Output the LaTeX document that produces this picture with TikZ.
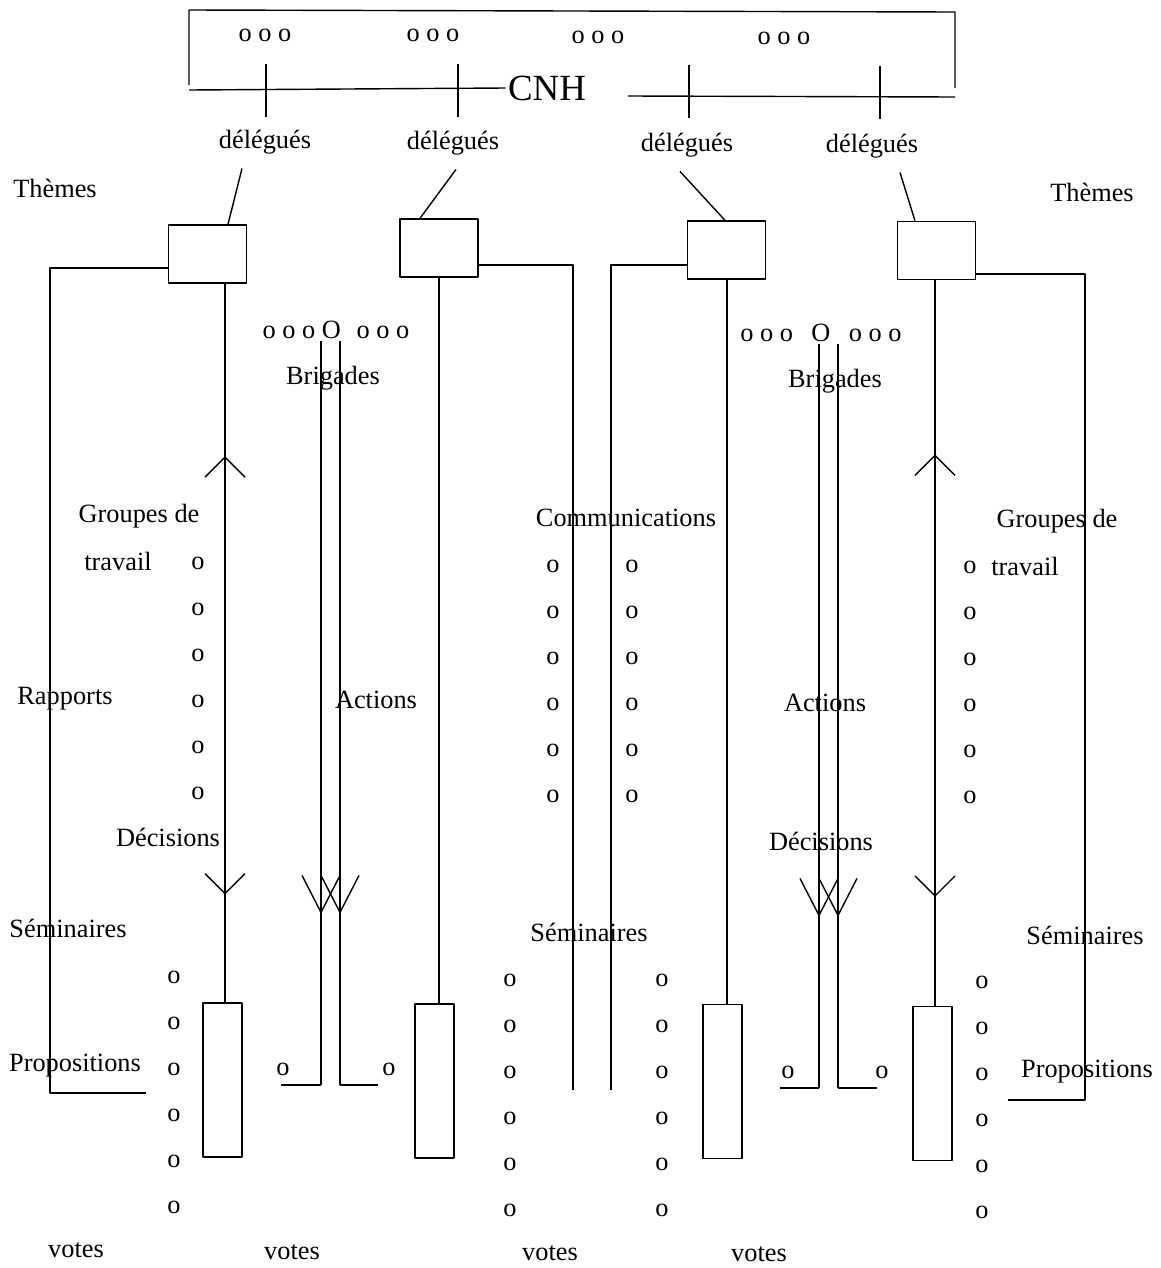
\documentclass[tikz,border=0pt]{standalone}
\usepackage{fontspec}
\setmainfont{Liberation Serif}
\usetikzlibrary{arrows.meta,decorations.markings}
\tikzset{
  theme/.style={draw, minimum width=1.56cm, minimum height=1.16cm, inner sep=0pt},
  prop/.style={draw, minimum width=0.78cm, minimum height=3.08cm, inner sep=0pt},
  lbl/.style={inner sep=1pt},
  dot/.style={inner sep=0pt},
  flow/.style={postaction={decorate}, decoration={markings,
      mark=at position 0.24 with {\arrowreversed{Straight Barb[length=4mm,width=8mm]}},
      mark=at position 0.85 with {\arrow{Straight Barb[length=4mm,width=8mm]}}}},
  brig/.style={postaction={decorate}, decoration={markings,
      mark=at position 0.77 with {\arrow{Straight Barb[length=7.4mm,width=7.6mm]}}}}
}
\begin{document}
\begin{tikzpicture}[x=0.02cm, y=-0.02cm, line width=0.8pt, line join=round, font=\fontsize{15}{18}\selectfont]
\useasboundingbox (0,0) rectangle (1160,1268);
% CNH
\node[lbl, font=\fontsize{21}{24}\selectfont] (cnh) at (547,88) {CNH};
\draw (189,85) -- (189,10) -- (955,12) -- (955,88);
\draw (189,90) -- (cnh.west) (628,96) -- (955,97);
\foreach \n/\x/\y in {1/265/35, 2/433/35, 3/598/37, 4/784/38}
  \node[lbl] (c\n) at (\x,\y) {o o o};
\foreach \x/\y in {266/64, 458/64, 689/65, 880/66}
  \draw (\x,\y) -- +(0,53);
% delegues et themes
\foreach \n/\x/\y in {1/265/142, 2/453/143, 3/687/145, 4/872/146}
  \node[lbl] (d\n) at (\x,\y) {délégués};
\node[theme] (t1) at (207.5,254) {};
\node[theme] (t2) at (439,248) {};
\node[theme] (t3) at (726.5,250) {};
\node[theme] (t4) at (936.5,250.5) {};
\foreach \n/\a/\b in {1/242/228, 2/456/420, 3/680/725, 4/900/915}
  \draw (d\n.south -| \a,0) ++(0,12) -- (t\n.north -| \b,0);
\node[lbl] (th1) at (55,188) {Thèmes};
\node[lbl] (th2) at (1092,192) {Thèmes};
% propositions
\node[prop] (p1) at (222.5,1080) {};
\node[prop] (p2) at (434.5,1081) {};
\node[prop] (p3) at (722.5,1081.5) {};
\node[prop] (p4) at (932.5,1083.5) {};
\draw (t1.west |- 0,268) -| (50,1093) -- (146,1093);
\draw[flow] (t1.south -| 225,0) -- (p1.north -| 225,0);
\draw (t2.east |- 0,265) -| (573,1090);
\draw (t2.south -| 439,0) -- (p2.north -| 439,0);
\draw (t3.west |- 0,265) -| (611,1090);
\draw (t3.south -| 727,0) -- (p3.north -| 727,0);
\draw[flow] (t4.south -| 935,0) -- (p4.north -| 935,0);
\draw (t4.east |- 0,274) -| (1085,1100) -- (1008,1100);
% brigades
\node[lbl] (bg1) at (336,330) {o o o O\hspace{0.6em}o o o};
\node[lbl] (bg2) at (821,333) {o o o\hspace{0.7em}O\hspace{0.7em}o o o};
\foreach \x/\f in {321/281, 340/378} {
  \draw[brig] (bg1.south -| \x,0) -- (\x,1085);
  \draw (\x,1085) -- (\f,1085);
}
\foreach \x/\f in {819/780, 838/877} {
  \draw[brig] (bg2.south -| \x,0) -- (\x,1088);
  \draw (\x,1088) -- (\f,1088);
}
% textes
\node[lbl] (br1) at (333,378) {Brigades};
\node[lbl] (br2) at (835,381) {Brigades};
\node[lbl] (gt1) at (139,516) {Groupes de};
\node[lbl] (tr1) at (118,561) {travail};
\node[lbl] (gt2) at (1057,521) {Groupes de};
\node[lbl] (tr2) at (1025,566) {travail};
\node[lbl] (com) at (626,518) {Communications};
\node[lbl] (rap) at (65,699) {Rapports};
\node[lbl] (ac1) at (376,700) {Actions};
\node[lbl] (ac2) at (825,703) {Actions};
\node[lbl] (de1) at (168,837) {Décisions};
\node[lbl] (de2) at (821,841) {Décisions};
\node[lbl] (se1) at (68,928) {Séminaires};
\node[lbl] (se2) at (589,932) {Séminaires};
\node[lbl] (se3) at (1085,935) {Séminaires};
\node[lbl] (pr1) at (75,1066) {Propositions};
\node[lbl] (pr2) at (1087,1072) {Propositions};
\foreach \n/\x/\y in {1/76/1250, 2/292/1252, 3/550/1253, 4/759/1254}
  \node[lbl] (v\n) at (\x,\y) {votes};
% petits o
\foreach \c/\x/\y in {a/198/563, b/553/566, c/632/566, d/970/567, e/174/977, f/510/980, g/662/980, h/982/982}
  \foreach \i in {0,...,5}
    \node[dot] (o\c\i) at (\x,\y+46*\i) {o};
\foreach \n/\x/\y in {1/283/1069, 2/389/1069, 3/788/1072, 4/882/1072}
  \node[dot] (s\n) at (\x,\y) {o};
\end{tikzpicture}
\end{document}
